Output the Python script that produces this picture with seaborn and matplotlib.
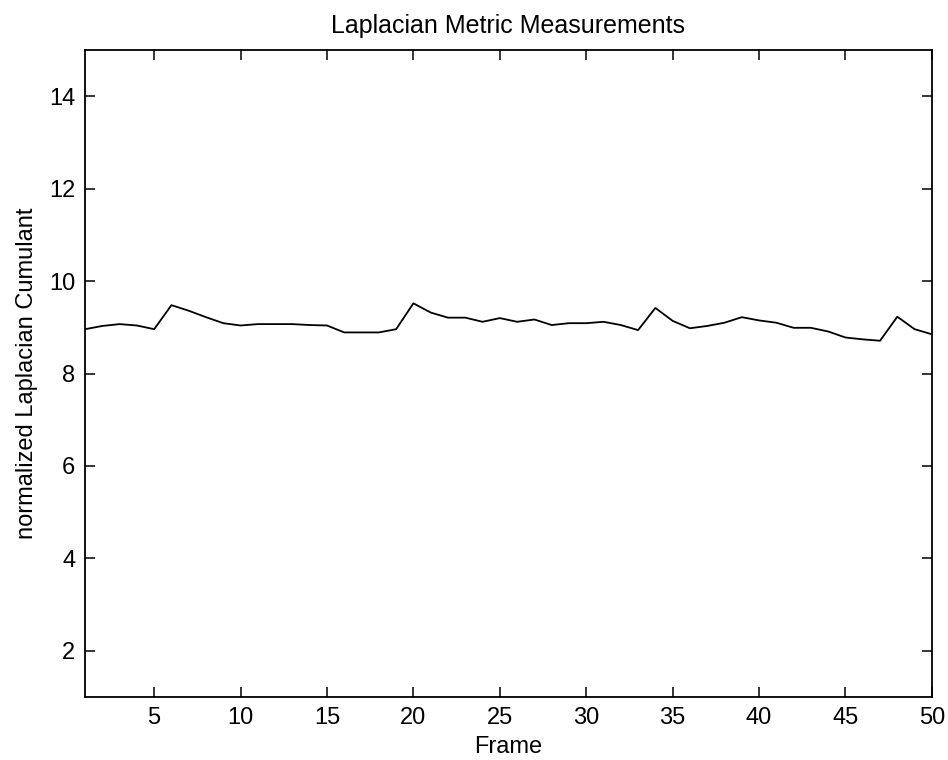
import matplotlib
matplotlib.use("Agg")
import matplotlib.pyplot as plt
import numpy as np
import pandas as pd
import seaborn as sns

# Normalized Laplacian cumulant for each frame of the sequence
frames = list(range(1, 51))
cumulant = [
    8.96, 9.03, 9.07, 9.04, 8.96, 9.48, 9.36, 9.22, 9.09, 9.04,
    9.07, 9.07, 9.07, 9.05, 9.04, 8.89, 8.89, 8.89, 8.96, 9.52,
    9.32, 9.21, 9.21, 9.12, 9.20, 9.12, 9.17, 9.05, 9.09, 9.09,
    9.12, 9.05, 8.94, 9.42, 9.14, 8.98, 9.03, 9.10, 9.22, 9.15,
    9.10, 8.99, 8.99, 8.91, 8.78, 8.74, 8.71, 9.23, 8.96, 8.85,
]
x_ticks = [5, 10, 15, 20, 25, 30, 35, 40, 45, 50]
y_ticks = [2, 4, 6, 8, 10, 12, 14]

df = pd.DataFrame({"Frame": frames, "cumulant": cumulant})

sns.set_style("ticks")
plt.rcParams["font.family"] = ["Liberation Sans", "DejaVu Sans"]
plt.rcParams["text.color"] = "black"
plt.rcParams["axes.labelcolor"] = "black"

fig = plt.figure(figsize=(9.48, 7.6), dpi=100)
ax = fig.add_axes([0.0897, 0.083, 0.8933, 0.851])

sns.lineplot(data=df, x="Frame", y="cumulant", ax=ax, color="black",
             linewidth=1.3, estimator=None)

ax.set_xlim(1, 50)
ax.set_ylim(1, 15)
ax.set_xticks(x_ticks)
ax.set_yticks(y_ticks)

for side in ["top", "right", "bottom", "left"]:
    ax.spines[side].set_visible(True)
    ax.spines[side].set_color("black")
    ax.spines[side].set_linewidth(1.3)

ax.tick_params(direction="in", length=7, width=1.1, colors="black",
               labelcolor="black", top=True, right=True, labelsize=17, pad=7)

ax.set_title("Laplacian Metric Measurements", fontsize=18, pad=12,
             color="black")
ax.set_xlabel("Frame", fontsize=17, labelpad=5)
ax.set_ylabel("normalized Laplacian Cumulant", fontsize=17, labelpad=8)

fig.savefig("out.png", dpi=100, facecolor="white")
